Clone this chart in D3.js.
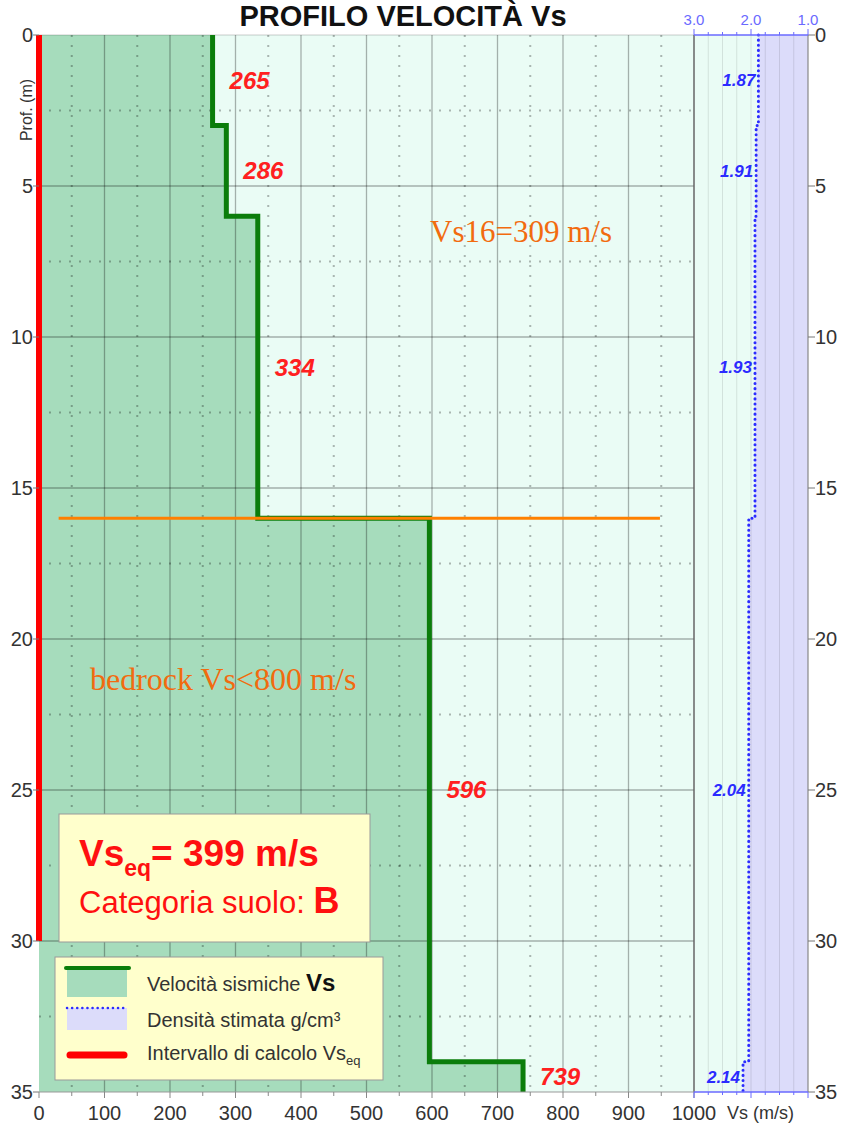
<!DOCTYPE html>
<html>
<head>
<meta charset="utf-8">
<script src="https://cdn.jsdelivr.net/npm/d3@7"></script>
<style>
  body { margin: 0; background: #fff; }
  text { font-family: "Liberation Sans", Arial, sans-serif; }
</style>
</head>
<body>
<svg id="chart" width="841" height="1124"></svg>
<script>
// Layer data
const layerTop = [0, 3, 6, 16, 34];
const layerBottom = [3, 6, 16, 34, 35];
const vsValues = [265, 286, 334, 596, 739];
const densityValues = [1.87, 1.91, 1.93, 2.04, 2.14];

// Axis ticks
const depthTicks = [0, 5, 10, 15, 20, 25, 30, 35];
const vsTicks = [0, 100, 200, 300, 400, 500, 600, 700, 800, 900, 1000];
const densityTicks = [3.0, 2.0, 1.0];

// Summary values
const vsEq = 399;
const soilCategory = 'B';
const vseqDepth = 30;
const vs16Depth = 16;
const vs16Value = 309;
const vs16LineRange = [30, 948];

const svg = d3.select('#chart');

// Scales
const x = d3.scaleLinear().domain([0, 1000]).range([39, 694]);
const y = d3.scaleLinear().domain([0, 35]).range([35, 1092]);
const dens = d3.scaleLinear().domain([3, 1]).range([694, 808]);

const layers = layerTop.map((t, i) => ({
  top: t, bottom: layerBottom[i], vs: vsValues[i], rho: densityValues[i],
}));

// Build step points (value, depth) for each layer
const stepPoints = (key) => layers.flatMap(d => [[d[key], d.top], [d[key], d.bottom]]);

// Background of both panels
svg.append('rect')
  .attr('x', x(0)).attr('y', y(0))
  .attr('width', dens(1) - x(0)).attr('height', y(35) - y(0))
  .attr('fill', '#eafcf5');

// Green area under the Vs profile
svg.append('path')
  .datum(stepPoints('vs'))
  .attr('fill', '#a6dcbc')
  .attr('d', d3.area().x0(x(0)).x1(d => x(d[0])).y(d => y(d[1])));

// Lilac area right of the density profile
svg.append('path')
  .datum(stepPoints('rho'))
  .attr('fill', '#dcdcfa')
  .attr('d', d3.area().x0(dens(1)).x1(d => dens(d[0])).y(d => y(d[1])));

// Grid: Vs panel
const grid = svg.append('g');
d3.range(100, 1000, 100).forEach(v => {
  grid.append('line')
    .attr('x1', x(v)).attr('x2', x(v)).attr('y1', y(0)).attr('y2', y(35))
    .attr('stroke', '#000').attr('stroke-opacity', 0.3).attr('stroke-width', 1.3);
});
d3.range(50, 1000, 100).forEach(v => {
  grid.append('line')
    .attr('x1', x(v)).attr('x2', x(v)).attr('y1', y(0)).attr('y2', y(35))
    .attr('stroke', '#000').attr('stroke-opacity', 0.28).attr('stroke-width', 2)
    .attr('stroke-dasharray', '2,8');
});
d3.range(5, 35, 5).forEach(v => {
  grid.append('line')
    .attr('x1', x(0)).attr('x2', x(1000)).attr('y1', y(v)).attr('y2', y(v))
    .attr('stroke', '#000').attr('stroke-opacity', 0.3).attr('stroke-width', 1.3);
});
d3.range(2.5, 35, 5).forEach(v => {
  grid.append('line')
    .attr('x1', x(0)).attr('x2', x(1000)).attr('y1', y(v)).attr('y2', y(v))
    .attr('stroke', '#000').attr('stroke-opacity', 0.28).attr('stroke-width', 2)
    .attr('stroke-dasharray', '2,8');
});
// top border of the Vs panel
grid.append('line')
  .attr('x1', x(0)).attr('x2', x(1000)).attr('y1', y(0)).attr('y2', y(0))
  .attr('stroke', '#000').attr('stroke-opacity', 0.2);

// Grid: density panel (every 0.25)
d3.range(2.75, 1.0, -0.25).forEach(v => {
  grid.append('line')
    .attr('x1', dens(v)).attr('x2', dens(v)).attr('y1', y(0)).attr('y2', y(35))
    .attr('stroke', '#000').attr('stroke-opacity', 0.1);
});
grid.append('line')
  .attr('x1', x(1000)).attr('x2', x(1000)).attr('y1', y(0)).attr('y2', y(35))
  .attr('stroke', '#666').attr('stroke-width', 1.5);
grid.append('line')
  .attr('x1', dens(1)).attr('x2', dens(1)).attr('y1', y(0)).attr('y2', y(35))
  .attr('stroke', '#888').attr('stroke-width', 1.2);

// Density dotted profile
svg.append('path')
  .datum(stepPoints('rho'))
  .attr('fill', 'none')
  .attr('stroke', '#2b2bff')
  .attr('stroke-width', 3)
  .attr('stroke-linecap', 'round')
  .attr('stroke-dasharray', '0.1,5')
  .attr('d', d3.line().x(d => dens(d[0])).y(d => y(d[1])));

// Vs profile line
svg.append('path')
  .datum(stepPoints('vs'))
  .attr('fill', 'none')
  .attr('stroke', '#0b7d0b')
  .attr('stroke-width', 5)
  .attr('d', d3.line().x(d => x(d[0])).y(d => y(d[1])));

// Red Vs_eq interval
svg.append('line')
  .attr('x1', x(0)).attr('x2', x(0)).attr('y1', y(0)).attr('y2', y(vseqDepth))
  .attr('stroke', '#ff0000').attr('stroke-width', 6);

// Orange Vs16 line
svg.append('line')
  .attr('x1', x(vs16LineRange[0])).attr('x2', x(vs16LineRange[1]))
  .attr('y1', y(vs16Depth)).attr('y2', y(vs16Depth))
  .attr('stroke', '#ff8000').attr('stroke-width', 3);

// Layer labels
const mid = d => (d.top + d.bottom) / 2;
svg.selectAll('.vs-label')
  .data(layers)
  .enter().append('text')
  .attr('class', 'vs-label')
  .attr('x', d => x(d.vs) + 17)
  .attr('y', d => y(mid(d)))
  .attr('dy', '0.35em')
  .attr('fill', '#ff2020')
  .style('font-size', '24px')
  .style('font-weight', 'bold')
  .style('font-style', 'italic')
  .text(d => d.vs);

svg.selectAll('.rho-label')
  .data(layers)
  .enter().append('text')
  .attr('class', 'rho-label')
  .attr('x', d => dens(d.rho) - 3)
  .attr('y', d => y(mid(d)))
  .attr('dy', '0.35em')
  .attr('text-anchor', 'end')
  .attr('fill', '#2b2bff')
  .style('font-size', '17px')
  .style('font-weight', 'bold')
  .style('font-style', 'italic')
  .text(d => d.rho.toFixed(2));

// Axes
const axisText = '#333';
const leftAxis = svg.append('g');
depthTicks.forEach(d => {
  leftAxis.append('line')
    .attr('x1', x(0) - 6).attr('x2', x(0)).attr('y1', y(d)).attr('y2', y(d))
    .attr('stroke', '#777');
  leftAxis.append('text')
    .attr('x', x(0) - 6).attr('y', y(d)).attr('dy', '0.35em')
    .attr('text-anchor', 'end').attr('fill', axisText)
    .style('font-size', '20px').text(d);
});
const rightAxis = svg.append('g');
depthTicks.forEach(d => {
  rightAxis.append('line')
    .attr('x1', dens(1)).attr('x2', dens(1) + 7).attr('y1', y(d)).attr('y2', y(d))
    .attr('stroke', '#777');
  rightAxis.append('text')
    .attr('x', dens(1) + 7).attr('y', y(d)).attr('dy', '0.35em')
    .attr('fill', axisText)
    .style('font-size', '20px').text(d);
});
const bottomAxis = svg.append('g');
bottomAxis.append('line')
  .attr('x1', x(0)).attr('x2', x(1000)).attr('y1', y(35)).attr('y2', y(35))
  .attr('stroke', '#999');
d3.range(0, 1001, 50).forEach(v => {
  bottomAxis.append('line')
    .attr('x1', x(v)).attr('x2', x(v)).attr('y1', y(35)).attr('y2', y(35) + (v % 100 ? 4 : 6))
    .attr('stroke', '#888');
});
vsTicks.forEach(v => {
  bottomAxis.append('text')
    .attr('x', x(v)).attr('y', 1120)
    .attr('text-anchor', 'middle').attr('fill', axisText)
    .style('font-size', '20px').text(v);
});
bottomAxis.append('text')
  .attr('x', 727).attr('y', 1119)
  .attr('fill', axisText).style('font-size', '18px')
  .text('Vs (m/s)');

// Density axes (top and bottom)
const densColor = '#6a6aff';
[y(0), y(35)].forEach((yy, k) => {
  const dir = k === 0 ? -1 : 1;
  svg.append('line')
    .attr('x1', dens(3)).attr('x2', dens(1)).attr('y1', yy).attr('y2', yy)
    .attr('stroke', densColor).attr('stroke-width', 1.3);
  d3.range(3, 0.99, -0.25).forEach(v => {
    const major = Math.abs(v - Math.round(v)) < 1e-6;
    svg.append('line')
      .attr('x1', dens(v)).attr('x2', dens(v))
      .attr('y1', yy).attr('y2', yy + dir * (major ? 6 : 3))
      .attr('stroke', densColor);
  });
});
densityTicks.forEach(v => {
  svg.append('text')
    .attr('x', dens(v)).attr('y', 25)
    .attr('text-anchor', 'middle').attr('fill', densColor)
    .style('font-size', '15px').text(v.toFixed(1));
});

// Title and depth label
svg.append('text')
  .attr('x', 403).attr('y', 26)
  .attr('text-anchor', 'middle').attr('fill', '#111')
  .style('font-size', '29px').style('font-weight', 'bold')
  .text('PROFILO VELOCITÀ Vs');

svg.append('text')
  .attr('transform', 'translate(32,110) rotate(-90)')
  .attr('text-anchor', 'middle').attr('fill', axisText)
  .style('font-size', '16px')
  .text('Prof. (m)');

// Orange annotations
svg.append('text')
  .attr('x', 430).attr('y', 242)
  .attr('fill', '#f26b0f')
  .style('font-family', '"Liberation Serif", "DejaVu Serif", serif')
  .style('font-size', '31px')
  .text(`Vs16=${vs16Value} m/s`);

svg.append('text')
  .attr('x', 90).attr('y', 690)
  .attr('fill', '#f26b0f')
  .style('font-family', '"Liberation Serif", "DejaVu Serif", serif')
  .style('font-size', '32px')
  .text('bedrock Vs<800 m/s');

// Vs_eq box
const eqBox = svg.append('g');
eqBox.append('rect')
  .attr('x', 59).attr('y', 814).attr('width', 311).attr('height', 128)
  .attr('fill', '#ffffcc').attr('stroke', '#999').attr('stroke-width', 1);
const eqText = eqBox.append('text')
  .attr('x', 79).attr('y', 866)
  .attr('fill', '#ff1010').style('font-weight', 'bold').style('font-size', '37px');
eqText.append('tspan').text('Vs');
eqText.append('tspan').attr('dy', 10).style('font-size', '23px').text('eq');
eqText.append('tspan').attr('dy', -10).text(`= ${vsEq} m/s`);
const catText = eqBox.append('text')
  .attr('x', 79).attr('y', 913)
  .attr('fill', '#ff1010').style('font-size', '31px');
catText.append('tspan').text('Categoria suolo: ');
catText.append('tspan').style('font-weight', 'bold').style('font-size', '36px').text(soilCategory);

// Legend
const legend = svg.append('g');
legend.append('rect')
  .attr('x', 55).attr('y', 957).attr('width', 328).attr('height', 123)
  .attr('fill', '#ffffcc').attr('stroke', '#999').attr('stroke-width', 1);
legend.append('rect')
  .attr('x', 67).attr('y', 969).attr('width', 60).attr('height', 28).attr('fill', '#a6dcbc');
legend.append('line')
  .attr('x1', 66).attr('x2', 129).attr('y1', 968).attr('y2', 968)
  .attr('stroke', '#0b7d0b').attr('stroke-width', 4).attr('stroke-linecap', 'round');
legend.append('rect')
  .attr('x', 67).attr('y', 1008).attr('width', 60).attr('height', 22).attr('fill', '#dcdcfa');
legend.append('line')
  .attr('x1', 67).attr('x2', 124).attr('y1', 1008).attr('y2', 1008)
  .attr('stroke', '#2b2bff').attr('stroke-width', 2.5)
  .attr('stroke-linecap', 'round').attr('stroke-dasharray', '0.1,5');
legend.append('line')
  .attr('x1', 70).attr('x2', 124).attr('y1', 1055).attr('y2', 1055)
  .attr('stroke', '#ff0000').attr('stroke-width', 7).attr('stroke-linecap', 'round');

const legText = '#333';
const l1 = legend.append('text').attr('x', 147).attr('y', 991)
  .attr('fill', legText).style('font-size', '20px');
l1.append('tspan').text('Velocità sismiche ');
l1.append('tspan').style('font-weight', 'bold').style('font-size', '24px').attr('fill', '#111').text('Vs');
legend.append('text').attr('x', 147).attr('y', 1027)
  .attr('fill', legText).style('font-size', '20px').text('Densità stimata g/cm³');
const l3 = legend.append('text').attr('x', 147).attr('y', 1060)
  .attr('fill', legText).style('font-size', '20px');
l3.append('tspan').text('Intervallo di calcolo Vs');
l3.append('tspan').attr('dy', 5).style('font-size', '13px').text('eq');
</script>
</body>
</html>
